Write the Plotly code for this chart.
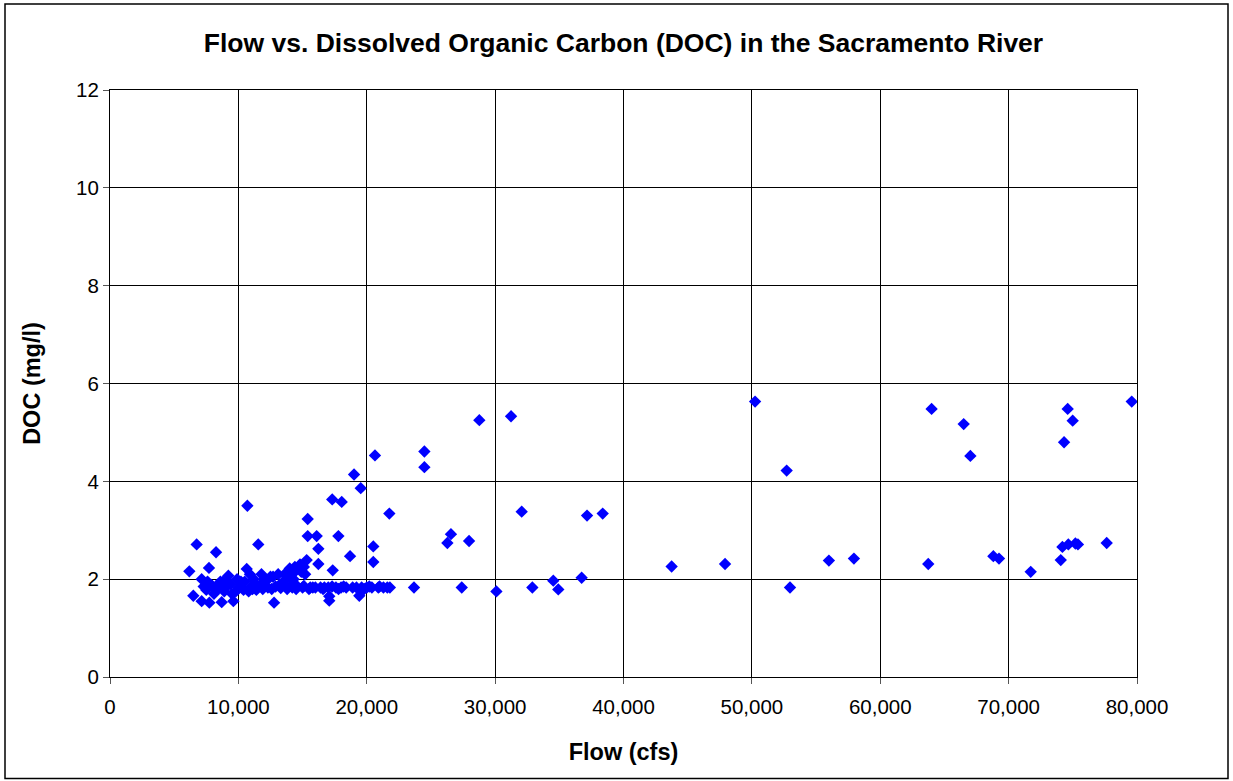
import plotly.graph_objects as go

flow_cfs = [
    6180, 6490, 6750, 7140, 7140, 7300, 7500, 7600, 7710, 7740, 7900, 8100, 8260, 8300, 8400,
    8600, 8700, 8800, 8900, 9100, 9220, 9400, 9500, 9610, 9800, 9900, 10000, 10200, 10400, 10500,
    10650, 10700, 10800, 10900, 11000, 11100, 11200, 11400, 11500, 11550, 11700, 11800, 11900, 12000,
    12000, 12100, 12300, 12500, 12600, 12700, 12780, 12900, 13100, 13200, 13300, 13500, 13600, 13700,
    13800, 13900, 14000, 14100, 14200, 14300, 14400, 14400, 14500, 14600, 14800, 14900, 15000, 15100,
    15100, 15200, 15320, 15400, 15400, 15500, 15600, 15800, 16000, 16100, 16230, 16230, 16400, 16600,
    16700, 17000, 17080, 17080, 17300, 17310, 17350, 17600, 17790, 17800, 18000, 18050, 18200, 18400,
    18700, 18900, 19010, 19200, 19420, 19530, 19600, 19800, 20000, 20200, 20400, 20510, 20510, 20640,
    20900, 21000, 21300, 21600, 21760, 21800, 23680, 24490, 24490, 26280, 26560, 27400, 27970, 28770,
    30100, 31240, 32070, 32900, 34530, 34920, 36740, 37160, 38380, 43750, 47910, 50250, 52710, 52970,
    56000, 57950, 63740, 64000, 66500, 67020, 68810, 69250, 71720, 74060, 74190, 74320, 74600, 74650,
    74990, 75200, 75400, 77640, 79590,
]
doc_mgl = [
    2.16, 1.66, 2.71, 2.00, 1.55, 1.85, 1.78, 1.95, 2.23, 1.52, 1.88, 1.70, 2.55, 1.85, 1.80,
    1.95, 1.53, 1.95, 1.75, 1.85, 2.07, 1.90, 1.70, 1.55, 1.75, 2.00, 1.82, 1.95, 1.78, 1.95,
    2.21, 3.50, 1.75, 2.10, 1.85, 1.80, 2.00, 1.78, 1.85, 2.71, 1.88, 2.10, 1.80, 1.87,
    2.00, 1.95, 1.83, 2.05, 1.80, 2.05, 1.52, 1.85, 2.10, 1.88, 1.82, 1.95, 2.10, 1.85,
    1.80, 2.05, 2.22, 1.87, 1.83, 2.00, 2.15, 2.25, 1.80, 1.85, 2.30, 2.15, 1.83, 1.86,
    2.25, 2.10, 2.39, 3.23, 2.88, 1.80, 1.83, 1.83, 1.83, 2.88, 2.62, 2.31, 1.83, 1.80,
    1.83, 1.83, 1.56, 1.65, 1.85, 3.63, 2.18, 1.83, 2.88, 1.80, 1.83, 3.58, 1.85, 1.83,
    2.47, 1.83, 4.14, 1.83, 1.66, 3.86, 1.83, 1.80, 1.83, 1.85, 1.83, 2.67, 2.35, 4.53,
    1.83, 1.85, 1.83, 1.83, 3.34, 1.83, 1.83, 4.61, 4.29, 2.74, 2.92, 1.83, 2.78, 5.25,
    1.75, 5.33, 3.38, 1.83, 1.97, 1.79, 2.03, 3.30, 3.34, 2.26, 2.31, 5.63, 4.22, 1.83,
    2.38, 2.42, 2.31, 5.48, 5.17, 4.52, 2.47, 2.42, 2.15, 2.39, 2.66, 4.80, 5.48, 2.71,
    5.24, 2.73, 2.71, 2.74, 5.63,
]

x_tick_vals = [0, 10000, 20000, 30000, 40000, 50000, 60000, 70000, 80000]
x_tick_text = ["0", "10,000", "20,000", "30,000", "40,000", "50,000", "60,000", "70,000", "80,000"]
y_tick_vals = [0, 2, 4, 6, 8, 10, 12]

title_text = "Flow vs. Dissolved Organic Carbon (DOC) in the Sacramento River"
x_title = "Flow (cfs)"
y_title = "DOC (mg/l)"

FONT = "Liberation Sans, Arial, sans-serif"

fig = go.Figure()
fig.add_trace(go.Scatter(
    x=flow_cfs, y=doc_mgl, mode="markers",
    marker=dict(symbol="diamond", size=9.5, color="#0000FF", line=dict(width=0)),
    showlegend=False, hoverinfo="x+y",
))

fig.update_layout(
    width=1233, height=781,
    margin=dict(l=110, r=96, t=90, b=104),
    paper_bgcolor="white", plot_bgcolor="white",
    font=dict(family=FONT, color="black", size=20),
    title=dict(text="<b>" + title_text + "</b>", x=0.5, xref="paper", xanchor="center",
               y=1 - 43 / 781, yref="container", yanchor="middle",
               font=dict(family=FONT, size=26.5, color="black")),
    showlegend=False,
)
fig.update_xaxes(
    range=[0, 80000], tickvals=x_tick_vals, ticktext=x_tick_text,
    showgrid=True, gridcolor="black", gridwidth=1,
    showline=True, linecolor="black", linewidth=1, mirror=True,
    ticks="outside", ticklen=6, tickcolor="#555555", ticklabelstandoff=5,
    tickfont=dict(family=FONT, size=20.5, color="black"),
    title=dict(text="<b>" + x_title + "</b>", font=dict(family=FONT, size=23.5, color="black"), standoff=26),
    zeroline=False,
)
fig.update_yaxes(
    range=[0, 12], tickvals=y_tick_vals,
    showgrid=True, gridcolor="black", gridwidth=1,
    showline=True, linecolor="black", linewidth=1, mirror=True,
    ticks="outside", ticklen=6, tickcolor="#555555",
    tickfont=dict(family=FONT, size=20.5, color="black"),
    title=dict(text="<b>" + y_title + "</b>", font=dict(family=FONT, size=23.5, color="black"), standoff=28),
    zeroline=False,
)
# outer chart border
fig.add_shape(type="rect", xref="paper", yref="paper",
              x0=(5 - 110) / 1027, x1=(1228 - 110) / 1027,
              y0=(677.5 - 779) / 587.5, y1=(677.5 - 4) / 587.5,
              line=dict(color="black", width=1.5), fillcolor="rgba(0,0,0,0)", layer="below")

fig.write_html("out.html", config={"displayModeBar": False},
               post_script="document.body.style.margin='0px';document.body.style.padding='0px';")
